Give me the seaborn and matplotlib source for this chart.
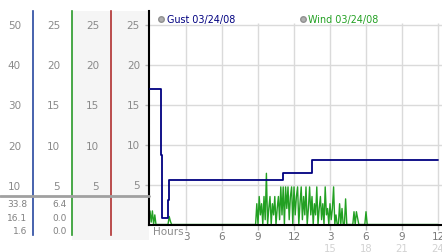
import numpy as np
import pandas as pd
import matplotlib
matplotlib.use("Agg")
import matplotlib.pyplot as plt
import seaborn as sns
from matplotlib.lines import Line2D
from matplotlib.patches import Rectangle

sns.set_theme(style="white")
plt.rcParams["font.family"] = ["DejaVu Sans"]

# ---------------- data ----------------
gust_hours = [0, 0.94, 1.0, 1.48, 1.56, 11.1, 13.5, 24]
gust_mph = [33.8, 17.5, 1.6, 6.2, 11.2, 13.0, 16.1, 16.1]

wind_step = 0.1
wind_early_start = 0.0
wind_early = [1.7, 0.3, 1.7, 0.0, 1.2, 0.0, 0.0, 0.0, 0.0, 0.0,
              0.0, 0.0, 0.0, 0.0, 0.0, 0.0, 1.0, 0.4, 0.0]
wind_main_start = 8.7
wind_main = [0, 0, 2.6, 0, 3.5, 1.2, 2.6, 0, 3.5, 0.6,
             6.4, 0, 2.0, 3.5, 0, 2.6, 1.2, 3.5, 0, 2.0,
             3.5, 0.6, 4.7, 1.2, 4.7, 0, 4.7, 2.0, 4.7, 0.6,
             3.5, 4.7, 0, 4.7, 1.2, 3.5, 4.7, 0, 2.6, 4.7,
             0.6, 3.5, 1.2, 4.7, 0, 2.0, 4.7, 1.2, 3.5, 0,
             2.6, 1.2, 4.7, 0, 2.0, 3.5, 0.6, 2.6, 0, 4.7,
             1.2, 2.0, 0, 2.6, 0.6, 2.0, 4.7, 0, 1.2, 0,
             0, 2.6, 0, 2.0, 0, 0, 3.2, 0, 0, 0,
             0, 0, 0, 1.6, 0, 1.6, 0.8, 0, 0, 0,
             0, 0, 0, 1.6, 0]
wind_end_hour = 24
wind_end_value = 0.0

gust_stats = ["33.8", "16.1", "1.6"]
wind_stats = ["6.4", "0.0", "0.0"]
gust_ticks = [10, 20, 30, 40, 50]
scale_ticks = [5, 10, 15, 20, 25]
hour_ticks = [3, 6, 9, 12, 15, 18, 21, 24]
hour_labels = ["3", "6", "9", "12", "3", "6", "9", "12"]
hour_ticks2 = [15, 18, 21, 24]
hour_labels2 = ["15", "18", "21", "24"]
legend_labels = ["Gust 03/24/08", "Wind 03/24/08"]

GUST_C = "#000080"
WIND_C = "#22a022"
LABEL_C = "#8a8a8a"

# ---------------- geometry (pixels) ----------------
W, H = 442, 253
def fx(px):
    return px / W
def fy(py):
    return 1 - py / H

AX_L, AX_R, AX_T, AX_B = 149, 442, 12, 225.5
PX_PER_UNIT = 8.0
ytop = (AX_B - AX_T) / PX_PER_UNIT

fig = plt.figure(figsize=(W / 100, H / 100), dpi=100)
fig.patch.set_facecolor("white")

# shaded band behind columns 3-4
fig.add_artist(Rectangle((fx(72), fy(241)), fx(149) - fx(72), fy(12) - fy(241),
                         transform=fig.transFigure, facecolor="#f5f5f5",
                         edgecolor="none", zorder=-5))

ax = fig.add_axes([fx(AX_L), fy(AX_B), (AX_R - AX_L) / W, (AX_B - AX_T) / H])
ax.set_facecolor("white")
ax.set_xlim(-1 / 12, 24 + 4 / 12)
ax.set_ylim(0, ytop)

# wind series
wx = list(wind_early_start + np.arange(len(wind_early)) * wind_step)
wy = list(wind_early)
wx += list(wind_main_start + np.arange(len(wind_main)) * wind_step)
wy += list(wind_main)
wx.append(wind_end_hour)
wy.append(wind_end_value)
wind_df = pd.DataFrame({"hour": wx, "wind": wy})
sns.lineplot(data=wind_df, x="hour", y="wind", ax=ax, color=WIND_C, lw=1.0,
             estimator=None, sort=False, zorder=3)

# grid
ax.set_yticks(scale_ticks)
ax.yaxis.grid(True, color="#dadada", lw=1)
ax.xaxis.grid(False)
ax.vlines(hour_ticks, 0, 25.15, color="#dadada", lw=1, zorder=0.5)
ax.set_xticks(hour_ticks, hour_labels)
ax.set_xlabel("")
ax.set_ylabel("")
for s in ["top", "right"]:
    ax.spines[s].set_visible(False)
for s in ["left", "bottom"]:
    ax.spines[s].set_color("black")
    ax.spines[s].set_linewidth(1.5)
    ax.spines[s].set_zorder(6)
ax.tick_params(axis="y", left=True, length=2.9, width=1, color="#b8b8b8",
               direction="out", pad=3.6, labelsize=7.5, labelcolor=LABEL_C)
ax.tick_params(axis="x", bottom=True, length=3.6, width=1, color="#b8b8b8",
               direction="out", pad=0.8, labelsize=7.5, labelcolor="#7a7a7a")

# gust on its own scale (column 1)
gax = ax.twinx()
gax.set_ylim(0, 2 * ytop)
gust_df = pd.DataFrame({"hour": gust_hours, "gust": gust_mph})
sns.lineplot(data=gust_df, x="hour", y="gust", ax=gax, color=GUST_C, lw=1.3,
             drawstyle="steps-post", estimator=None, sort=False)
gax.set_yticks([])
gax.set_ylabel("")
for s in gax.spines.values():
    s.set_visible(False)

# second row of hour labels
ax3 = ax.twiny()
ax3.set_xlim(ax.get_xlim())
ax3.xaxis.set_ticks_position("bottom")
ax3.set_xticks(hour_ticks2, hour_labels2)
ax3.tick_params(axis="x", length=0, pad=13.2, labelsize=7.2, labelcolor="#d2d2d2")
for s in ax3.spines.values():
    s.set_visible(False)

# left scale columns
def col_axis(xpx, scale, ticks, color):
    a = fig.add_axes([fx(xpx), fy(236), 0.0005, (236 - 12) / H])
    bottom = -(236 - AX_B) / PX_PER_UNIT * scale
    a.set_ylim(bottom, ytop * scale)
    a.patch.set_alpha(0)
    for s in ["top", "right", "bottom"]:
        a.spines[s].set_visible(False)
    a.spines["left"].set_color(color)
    a.spines["left"].set_linewidth(1.2)
    a.set_xticks([])
    a.set_yticks(ticks)
    a.tick_params(axis="y", left=True, length=0, pad=8.6, labelsize=7.5,
                  labelcolor=LABEL_C)
    return a

col_axis(33, 2, gust_ticks, "#2848a0")
col_axis(72, 1, scale_ticks, "#2a9a2a")
col_axis(111, 1, scale_ticks, "#b03030")

# separator and stats
fig.add_artist(Line2D([0, fx(149)], [fy(197), fy(197)], transform=fig.transFigure,
                      color="#a0a0a0", lw=2, zorder=10))
for i, (g, w) in enumerate(zip(gust_stats, wind_stats)):
    yy = fy(205 + 13.2 * i)
    fig.text(fx(27.5), yy, g, ha="right", va="center", fontsize=6.5, color="#808080")
    fig.text(fx(66.5), yy, w, ha="right", va="center", fontsize=6.5, color="#808080")

fig.text(fx(153), fy(232), "Hours", ha="left", va="center", fontsize=7.5,
         color=LABEL_C)

# legend
handles = [Line2D([], [], ls="none", marker="o", markersize=4,
                  markerfacecolor="#b0b0b0", markeredgecolor="#909090")
           for _ in legend_labels]
leg = ax.legend(handles, legend_labels, loc="center left",
                bbox_to_anchor=(fx(158.5), fy(20.5)), bbox_transform=fig.transFigure,
                ncol=2, frameon=False, fontsize=6.9, handlelength=0.5,
                handletextpad=0.35, columnspacing=6.8, borderpad=0, borderaxespad=0)
for t, c in zip(leg.get_texts(), [GUST_C, WIND_C]):
    t.set_color(c)

fig.savefig("out.png", dpi=100)
